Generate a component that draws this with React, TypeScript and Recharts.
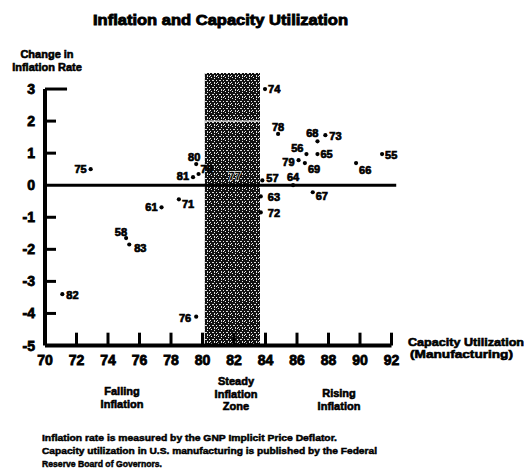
import React from 'react';
import { ScatterChart, Scatter, XAxis, YAxis, ReferenceArea, ReferenceLine } from 'recharts';

// ---- data ----
const years = ['75', '61', '71', '58', '83', '82', '76', '80', '81', '70', '77', '57', '63', '72', '74', '78', '64', '56', '79', '69', '65', '68', '73', '67', '66', '55'];
const capUtil = [72.9, 77.4, 78.5, 75.15, 75.35, 71.1, 79.6, 79.6, 79.4, 79.75, 82.3, 83.8, 83.7, 83.7, 83.97, 84.8, 85.75, 86.6, 86.1, 86.5, 87.3, 87.3, 87.8, 87.0, 89.75, 91.4];
const inflChange = [0.5, -0.69, -0.44, -1.65, -1.85, -3.4, -4.1, 0.66, 0.25, 0.35, 0.3, 0.15, -0.35, -0.85, 3.0, 1.6, 0.0, 0.97, 0.78, 0.69, 0.97, 1.37, 1.56, -0.22, 0.69, 0.97];

const xTicks = [70, 72, 74, 76, 78, 80, 82, 84, 86, 88, 90, 92];
const yTicks = [-5, -4, -3, -2, -1, 0, 1, 2, 3];
const steadyZone = { from: 80.15, to: 83.65, top: 3.5 };

// label placement (style): [dx, dy, anchor]
const labelPlace: Record<string, [number, number, string]> = {
  '75': [-4, 4, 'end'],
  '61': [-4, 4, 'end'],
  '71': [3, 9, 'start'],
  '58': [1, -2, 'end'],
  '83': [5, 7, 'start'],
  '82': [4, 5, 'start'],
  '76': [-5, 5, 'end'],
  '80': [-2, -3, 'middle'],
  '81': [-4, 3, 'end'],
  '70': [2, -1, 'start'],
  '77': [-4, 4, 'middle'],
  '57': [4, 2, 'start'],
  '63': [7, 5, 'start'],
  '72': [7, 5, 'start'],
  '74': [3, 4, 'start'],
  '78': [0, -3, 'middle'],
  '64': [0, -4, 'middle'],
  '56': [-3, -2, 'end'],
  '79': [-4, 6, 'end'],
  '69': [3, 10, 'start'],
  '65': [3, 4, 'start'],
  '68': [1, -4, 'end'],
  '73': [4, 5, 'start'],
  '67': [3, 8, 'start'],
  '66': [3, 11, 'start'],
  '55': [3, 5, 'start'],
};

const FONT = '"Liberation Sans", Arial, Helvetica, sans-serif';

const renderPoint = (props: any) => {
  const { cx, cy, payload } = props;
  const p = labelPlace[payload.year] || [4, 4, 'start'];
  const inZone = payload.x > steadyZone.from && payload.x < steadyZone.to;
  return (
    <g>
      <circle cx={cx} cy={cy} r={2.1} fill="#000" />
      <text
        x={cx + p[0]}
        y={cy + p[1]}
        textAnchor={p[2] as any}
        fontFamily={FONT}
        fontWeight={700}
        fontSize={11}
        fill="#000"
        stroke={inZone ? '#ddd' : '#000'}
        strokeWidth={inZone ? 1.4 : 0.7}
        paintOrder="stroke"
      >
        {payload.year}
      </text>
    </g>
  );
};

const XTick = (props: any) => {
  const { x, y, payload } = props;
  return (
    <text x={x} y={y + 19} textAnchor="middle" fontFamily={FONT} fontWeight={700} fontSize={14} fill="#000" stroke="#000" strokeWidth={0.8}>
      {payload.value}
    </text>
  );
};

const YTick = (props: any) => {
  const { x, y, payload } = props;
  return (
    <text x={x} y={y + 5} textAnchor="end" fontFamily={FONT} fontWeight={700} fontSize={14} fill="#000" stroke="#000" strokeWidth={0.8}>
      {payload.value}
    </text>
  );
};

const T = (p: any) => (
  <text
    x={p.x}
    y={p.y}
    textAnchor={p.anchor || 'middle'}
    fontFamily={FONT}
    fontWeight={700}
    fontSize={p.size || 11}
    fill="#000"
    stroke="#000"
    strokeWidth={p.sw ?? 0.6}
    textLength={p.len}
    lengthAdjust="spacingAndGlyphs"
  >
    {p.children}
  </text>
);

export default function App() {
  const data = years.map((year, i) => ({ year, x: capUtil[i], y: inflChange[i] }));
  return (
    <div style={{ position: 'absolute', left: 0, top: 0, width: 524, height: 476, background: '#fff' }}>
      <ScatterChart width={524} height={476} margin={{ top: 73, right: 132.5, bottom: 100.5, left: 0 }}>
        <defs>
          <pattern id="stipple" width="7" height="7" patternUnits="userSpaceOnUse">
            <rect width="7" height="7" fill="#111" />
            <rect x="1" y="0" width="1" height="1" fill="#eee" />
            <rect x="4" y="1" width="1" height="1" fill="#eee" />
            <rect x="2" y="3" width="2" height="1" fill="#ddd" />
            <rect x="6" y="3" width="1" height="1" fill="#eee" />
            <rect x="0" y="5" width="1" height="1" fill="#eee" />
            <rect x="4" y="5" width="1" height="2" fill="#ddd" />
            <rect x="6" y="6" width="1" height="1" fill="#eee" />
          </pattern>
        </defs>
        <XAxis
          type="number"
          dataKey="x"
          domain={[70, 92]}
          ticks={xTicks}
          axisLine={false}
          tickLine={false}
          tickSize={0}
          tickMargin={0}
          tick={XTick}
          height={30}
        />
        <YAxis
          type="number"
          dataKey="y"
          domain={[-5, steadyZone.top]}
          ticks={yTicks}
          axisLine={false}
          tickLine={false}
          tickSize={0}
          tickMargin={10}
          tick={YTick}
          width={45}
        />
        <ReferenceArea
          x1={steadyZone.from}
          x2={steadyZone.to}
          y1={-5}
          y2={steadyZone.top}
          fill="url(#stipple)"
          fillOpacity={1}
          stroke="none"
          ifOverflow="visible"
        />
        <ReferenceLine
          segment={[{ x: steadyZone.from, y: 2 }, { x: steadyZone.to, y: 2 }]}
          stroke="#fff"
          strokeWidth={1.2}
          ifOverflow="visible"
        />
        {/* zero line */}
        <ReferenceLine segment={[{ x: 70, y: 0 }, { x: 92.3, y: 0 }]} stroke="#000" strokeWidth={3} ifOverflow="visible" />
        {/* axis lines */}
        <ReferenceLine segment={[{ x: 70, y: -5 }, { x: 70, y: 3 }]} stroke="#000" strokeWidth={4} ifOverflow="visible" />
        <ReferenceLine segment={[{ x: 70, y: -5 }, { x: 92, y: -5 }]} stroke="#000" strokeWidth={4} ifOverflow="visible" />
        {/* inward ticks */}
        {yTicks.filter((v) => v > -5 && v !== 0).map((v) => (
          <ReferenceLine
            key={'yt' + v}
            segment={[{ x: 70, y: v }, { x: v === 3 ? 71.4 : 70.7, y: v }]}
            stroke="#000"
            strokeWidth={3}
            ifOverflow="visible"
          />
        ))}
        {xTicks.filter((v) => v > 70).map((v) => (
          <ReferenceLine
            key={'xt' + v}
            segment={[{ x: v, y: -5 }, { x: v, y: -4.6 }]}
            stroke="#000"
            strokeWidth={3}
            ifOverflow="visible"
          />
        ))}
        <Scatter data={data} shape={renderPoint} isAnimationActive={false} />
      </ScatterChart>
      <svg width={524} height={476} style={{ position: 'absolute', left: 0, top: 0, pointerEvents: 'none' }}>
        <T x={220.5} y={25} size={15} len={255} sw={0.9}>Inflation and Capacity Utilization</T>
        <T x={47} y={58} size={11}>Change in</T>
        <T x={47} y={71} size={11}>Inflation Rate</T>
        <T x={408} y={346} anchor="start" size={11} len={116}>Capacity Utilization</T>
        <T x={410} y={358} anchor="start" size={11} len={103}>(Manufacturing)</T>
        <T x={122} y={395} size={11}>Falling</T>
        <T x={122} y={408} size={11}>Inflation</T>
        <T x={236} y={385} size={11}>Steady</T>
        <T x={236} y={397.5} size={11}>Inflation</T>
        <T x={236} y={410} size={11}>Zone</T>
        <T x={339} y={397} size={11}>Rising</T>
        <T x={339} y={409.5} size={11}>Inflation</T>
        <T x={42} y={441} anchor="start" size={9.5} len={295} sw={0.5}>Inflation rate is measured by the GNP Implicit Price Deflator.</T>
        <T x={42} y={454} anchor="start" size={9.5} len={335} sw={0.5}>Capacity utilization in U.S. manufacturing is published by the Federal</T>
        <T x={42} y={467} anchor="start" size={9.5} len={120} sw={0.5}>Reserve Board of Governors.</T>
      </svg>
    </div>
  );
}
